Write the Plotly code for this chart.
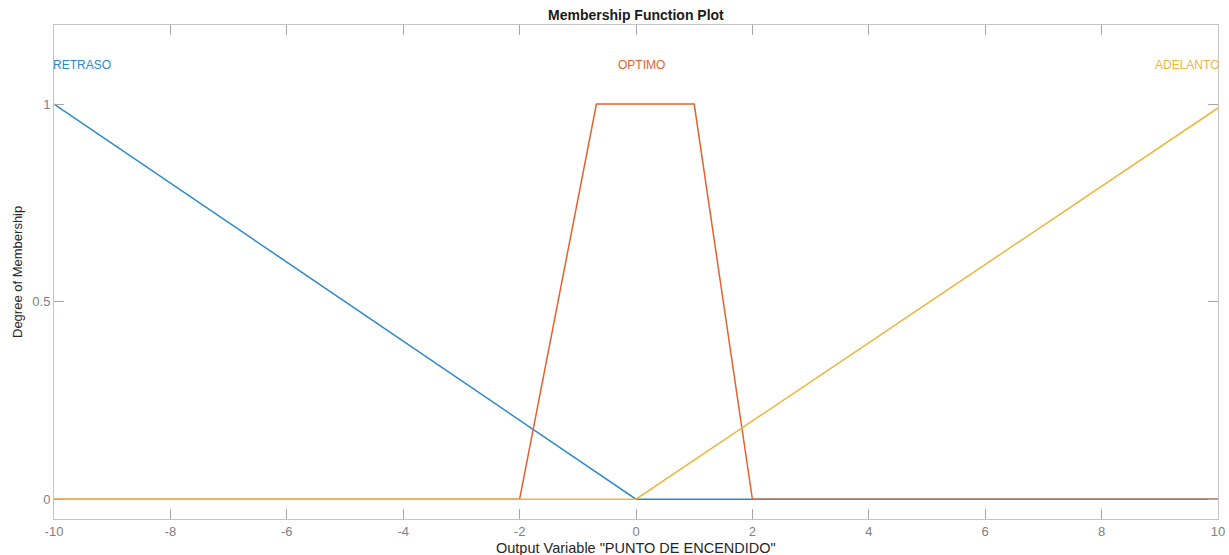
import plotly.graph_objects as go

# Membership functions of the output variable "PUNTO DE ENCENDIDO"
retraso_x = [-10, 0, 10]
retraso_y = [1, 0, 0]

optimo_x = [-10, -2, -0.68, 1, 2, 10]
optimo_y = [0, 0, 1, 1, 0, 0]

adelanto_x = [-10, 0, 10]
adelanto_y = [0, 0, 0.99]

mf_names = ["RETRASO", "OPTIMO", "ADELANTO"]
label_x = [-10, 0.1, 10]
label_y = 1.1

x_ticks = [-10, -8, -6, -4, -2, 0, 2, 4, 6, 8, 10]
y_ticks = [0, 0.5, 1]

colors = ["#2a88cc", "#e2622c", "#eeb43a"]
anchors = ["left", "center", "right"]
label_shift = [-3, 0, 3]

fig = go.Figure()
for xs, ys, c, n in [(retraso_x, retraso_y, colors[0], mf_names[0]),
                     (optimo_x, optimo_y, colors[1], mf_names[1]),
                     (adelanto_x, adelanto_y, colors[2], mf_names[2])]:
    fig.add_trace(go.Scatter(x=xs, y=ys, mode="lines", name=n,
                             line=dict(color=c, width=1.5), showlegend=False))

for n, lx, c, a, s in zip(mf_names, label_x, colors, anchors, label_shift):
    fig.add_annotation(x=lx, y=label_y, text=n, showarrow=False, xanchor=a, xshift=s,
                       yanchor="middle", font=dict(color=c, size=12))

axis_common = dict(showgrid=False, zeroline=False, showline=True, linecolor="#c4c4c4",
                   linewidth=1, mirror="ticks", ticks="inside", ticklen=10,
                   tickcolor="#a8a8a8", tickwidth=1, automargin=False,
                   tickfont=dict(color="#808080", size=13))

fig.update_xaxes(range=[-10, 10], tickvals=x_ticks, ticktext=[str(v) for v in x_ticks],
                 **axis_common)
fig.update_yaxes(range=[-0.05, 1.2], tickvals=y_ticks, ticktext=["0", "0.5", "1"],
                 **axis_common)

# Title and axis labels
fig.add_annotation(x=0.5, y=1, xref="paper", yref="paper", yshift=10, text="<b>Membership Function Plot</b>",
                   showarrow=False, yanchor="middle", font=dict(size=14, color="#1a1a1a"))
fig.add_annotation(x=0.5, y=0, xref="paper", yref="paper", yshift=-29,
                   text='Output Variable "PUNTO DE ENCENDIDO"', showarrow=False,
                   yanchor="middle", font=dict(size=14.5, color="#262626"))
fig.add_annotation(x=0, y=0.5, xref="paper", yref="paper", xshift=-37,
                   text="Degree of Membership", textangle=-90, showarrow=False,
                   xanchor="center", font=dict(size=13, color="#262626"))

fig.update_layout(width=1229, height=555, margin=dict(l=54, r=11, t=25, b=36),
                  paper_bgcolor="white", plot_bgcolor="white",
                  font=dict(family="Arial, Liberation Sans, sans-serif"))

fig.write_html("out.html")
